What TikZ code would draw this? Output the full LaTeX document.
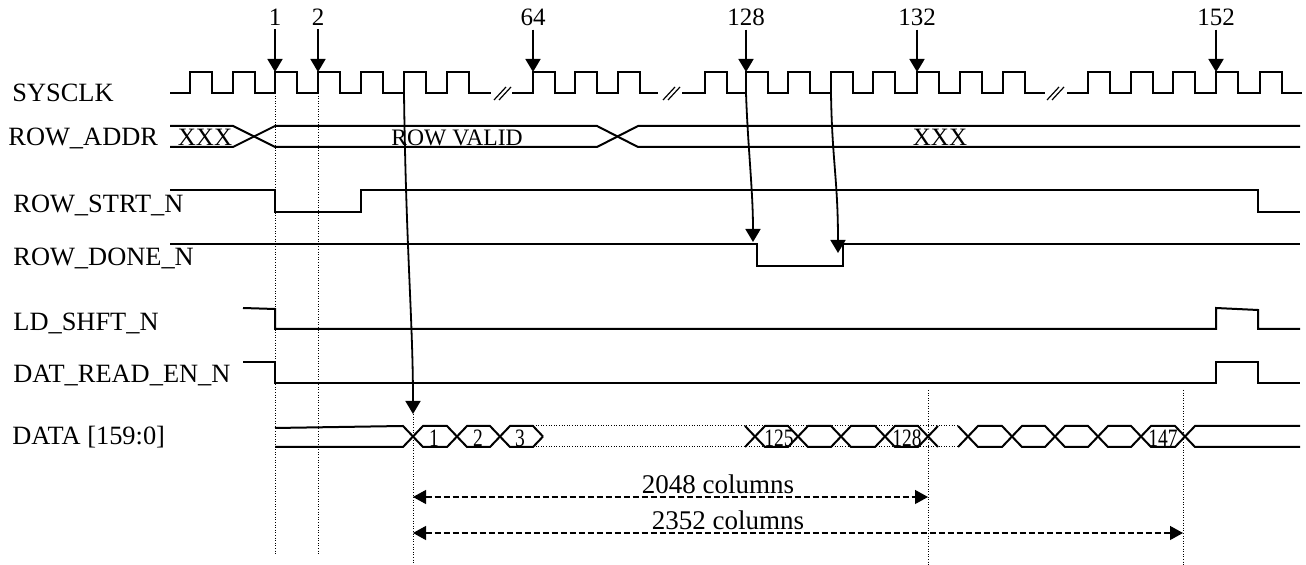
\documentclass[tikz,border=0pt]{standalone}
\usepackage{fontspec}
\setmainfont{Liberation Serif}
\usetikzlibrary{arrows.meta}
\begin{document}
\begin{tikzpicture}[x=0.5pt,y=-0.5pt,
  sig/.style={line width=1pt, line join=miter},
  brk/.style={line width=0.6pt},
  guide/.style={line width=0.5pt, dash pattern=on 0.5pt off 0.8pt},
  lbl/.style={anchor=base west, inner sep=0pt, font=\fontsize{13.2}{15}\selectfont},
  num/.style={anchor=base, inner sep=1.5pt, font=\fontsize{12.5}{15}\selectfont},
  bustxt/.style={anchor=base, inner sep=0pt, font=\fontsize{12.5}{15}\selectfont},
  cellnum/.style={anchor=base, inner sep=0pt, font=\fontsize{12.5}{14}\selectfont},
  dimtxt/.style={anchor=base, inner sep=0pt, font=\fontsize{13.5}{15}\selectfont},
  evarrow/.style={line width=0.9pt, -{Triangle[length=6.5pt,width=7.5pt]}},
  dimarrow/.style={line width=0.6pt, dash pattern=on 3pt off 1.5pt,
    {Triangle[length=6.5pt,width=7pt]}-{Triangle[length=6.5pt,width=7pt]}},
]
\useasboundingbox (0,0) rectangle (1306,565);

% ---- signal names ----
\node[lbl] (lclk)  at (12,102) {SYSCLK};
\node[lbl] (laddr) at (8,146)  {ROW\_ADDR};
\node[lbl] (lstrt) at (13,213) {ROW\_STRT\_N};
\node[lbl] (ldone) at (13,266) {ROW\_DONE\_N};
\node[lbl] (lld)   at (13,331) {LD\_SHFT\_N};
\node[lbl] (lrd)   at (13,383) {DAT\_READ\_EN\_N};
\node[lbl] (ldata) at (12,445) {DATA [159:0]};

% ---- guide lines ----
\draw[guide] (275,93) -- (275,555);
\draw[guide] (318,93) -- (318,555);
\draw[guide] (413,414) -- (413,565);
\draw[guide] (928,390) -- (928,565);
\draw[guide] (1183,390) -- (1183,565);

% ---- SYSCLK ----
\draw[sig] (170,93) foreach \r in {190,233,275,318,361,404,447}
  { -- (\r,93) -- (\r,72) -- (\r+22,72) -- (\r+22,93) } -- (491,93);
\draw[sig] (512,93) foreach \r in {533,575,618}
  { -- (\r,93) -- (\r,72) -- (\r+22,72) -- (\r+22,93) } -- (658,93);
\draw[sig] (682,93) foreach \r in {705,746,788,831,873,917,960,1003}
  { -- (\r,93) -- (\r,72) -- (\r+22,72) -- (\r+22,93) } -- (1045,93);
\draw[sig] (1067,93) foreach \r in {1088,1131,1173,1216,1260}
  { -- (\r,93) -- (\r,72) -- (\r+22,72) -- (\r+22,93) } -- (1302,93);
\draw[brk] (494,100) -- (506,87) (499,100) -- (511,87);
\draw[brk] (663,100) -- (675,87) (668,100) -- (680,87);
\draw[brk] (1047,100) -- (1059,87) (1052,100) -- (1064,87);

% ---- clock edge markers ----
\node[num] (n1)   at (275,26) {1};
\node[num] (n2)   at (318,26) {2};
\node[num] (n64)  at (533,26) {64};
\node[num] (n128) at (746,26) {128};
\node[num] (n132) at (917,26) {132};
\node[num] (n152) at (1216,26) {152};
\coordinate (e1)   at (275,72);
\coordinate (e2)   at (318,72);
\coordinate (e64)  at (533,72);
\coordinate (e128) at (746,72);
\coordinate (e132) at (917,72);
\coordinate (e152) at (1216,72);
\foreach \k in {1,2,64,128,132,152} { \draw[evarrow] (n\k) -- (e\k); }

% ---- ROW_ADDR ----
\draw[sig] (170,126) -- (233,126) -- (275,147) -- (597,147) -- (638,126) -- (1300,126);
\draw[sig] (170,147) -- (233,147) -- (275,126) -- (597,126) -- (638,147) -- (1300,147);
\node[bustxt] (ax1) at (205,146) {XXX};
\node[bustxt, font=\fontsize{11.8}{13}\selectfont] (arv) at (457,146) {ROW VALID};
\node[bustxt] (ax2) at (940,146) {XXX};

% ---- ROW_STRT_N ----
\draw[sig] (170,190) -- (275,190) -- (275,212) -- (361,212) -- (361,190)
  -- (1258,190) -- (1258,212) -- (1300,212);

% ---- ROW_DONE_N ----
\draw[sig] (170,244) -- (757,244) -- (757,266) -- (843,266) -- (843,244) -- (1300,244);

% ---- LD_SHFT_N ----
\draw[sig] (243,308) -- (275,309) -- (275,329) -- (1216,329) -- (1216,308)
  -- (1258,310) -- (1258,329) -- (1300,329);

% ---- DAT_READ_EN_N ----
\draw[sig] (243,362) -- (275,362) -- (275,383) -- (1216,383) -- (1216,362)
  -- (1258,362) -- (1258,383) -- (1300,383);

% ---- DATA ----
\draw[guide] (533,426) -- (958,426);
\draw[guide] (533,447) -- (958,447);
\draw[sig] (275,428) -- (403,426) -- (423,447) -- (447,447) -- (467,426) -- (490,426)
  -- (510,447) -- (533,447) -- (543,436.5);
\draw[sig] (275,447) -- (403,447) -- (423,426) -- (447,426) -- (467,447) -- (490,447)
  -- (510,426) -- (533,426) -- (543,436.5);
\draw[sig] (745,426) -- (765,447) -- (788,447) -- (808,426) -- (831,426) -- (851,447)
  -- (875,447) -- (895,426) -- (918,426) -- (938,447);
\draw[sig] (745,447) -- (765,426) -- (788,426) -- (808,447) -- (831,447) -- (851,426)
  -- (875,426) -- (895,447) -- (918,447) -- (938,426);
\draw[sig] (958,426) -- (978,447) -- (1002,447) -- (1022,426) -- (1045,426) -- (1065,447)
  -- (1088,447) -- (1108,426) -- (1131,426) -- (1151,447) -- (1175,447) -- (1195,426) -- (1300,426);
\draw[sig] (958,447) -- (978,426) -- (1002,426) -- (1022,447) -- (1045,447) -- (1065,426)
  -- (1088,426) -- (1108,447) -- (1131,447) -- (1151,426) -- (1175,426) -- (1195,447) -- (1300,447);
\node[cellnum] (d1)   at (434,447)  {\scalebox{0.78}[1]{1}};
\node[cellnum] (d2)   at (478,447)  {\scalebox{0.78}[1]{2}};
\node[cellnum] (d3)   at (520,447)  {\scalebox{0.78}[1]{3}};
\node[cellnum] (d125) at (779,447)  {\scalebox{0.78}[1]{125}};
\node[cellnum] (d128) at (907,447)  {\scalebox{0.78}[1]{128}};
\node[cellnum] (d147) at (1163,447) {\scalebox{0.78}[1]{147}};

% ---- causal arrows ----
\coordinate (s405) at (404,93);
\coordinate (t405) at (413,414);
\coordinate (s746) at (746,93);
\coordinate (t746) at (753,242);
\coordinate (s831) at (831,93);
\coordinate (t831) at (838,253);
\draw[evarrow] (s405) .. controls (406,250) and (413,320) .. (t405);
\draw[evarrow] (s746) .. controls (748,150) and (753,190) .. (t746);
\draw[evarrow] (s831) .. controls (832,160) and (838,180) .. (t831);

% ---- column dimensions ----
\coordinate (a0) at (413,497);
\coordinate (a1) at (928,497);
\coordinate (b0) at (413,533);
\coordinate (b1) at (1183,533);
\draw[dimarrow] (a0) -- (a1);
\draw[dimarrow] (b0) -- (b1);
\node[dimtxt] (t2048) at (718,494) {2048 columns};
\node[dimtxt] (t2352) at (728,530) {2352 columns};
\end{tikzpicture}
\end{document}
